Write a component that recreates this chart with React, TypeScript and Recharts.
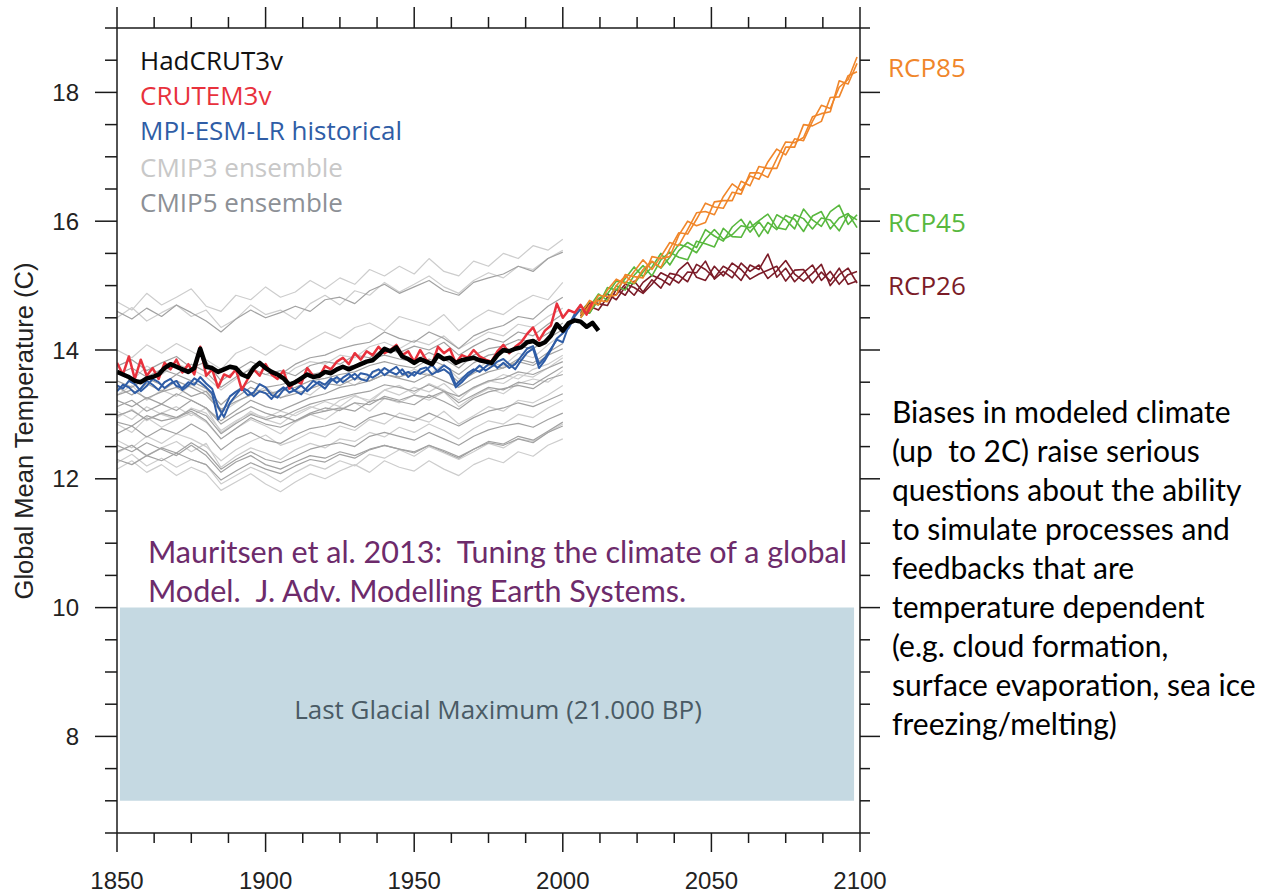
import React from 'react';
import { LineChart, Line, XAxis, YAxis, ReferenceArea } from 'recharts';

// x positions: evenly spaced years
const yearsFrom = (start: number, step: number, count: number) =>
  Array.from({ length: count }, (_, i) => start + i * step);

const OBS_YEARS = yearsFrom(1850, 2, 82); // 1850..2012
const ENS_YEARS = yearsFrom(1850, 5, 31); // 1850..2000
const RCP_YEARS = yearsFrom(2006, 3, 32); // 2006..2099

const X_TICKS = [1850, 1862.5, 1875, 1887.5, 1900, 1912.5, 1925, 1937.5, 1950, 1962.5, 1975, 1987.5, 2000, 2012.5, 2025, 2037.5, 2050, 2062.5, 2075, 2087.5, 2100];
const Y_TICKS = [6.5, 7, 7.5, 8, 8.5, 9, 9.5, 10, 10.5, 11, 11.5, 12, 12.5, 13, 13.5, 14, 14.5, 15, 15.5, 16, 16.5, 17, 17.5, 18, 18.5, 19];

const hadcrut3v = [
  13.66, 13.62, 13.58, 13.52, 13.50, 13.56, 13.58, 13.62, 13.72, 13.78,
  13.74, 13.70, 13.66, 13.72, 14.02, 13.74, 13.72, 13.66, 13.70, 13.74,
  13.72, 13.62, 13.58, 13.72, 13.80, 13.72, 13.66, 13.62, 13.56, 13.46,
  13.50, 13.56, 13.62, 13.58, 13.60, 13.66, 13.64, 13.70, 13.74, 13.70,
  13.74, 13.78, 13.82, 13.84, 13.92, 14.02, 13.98, 14.04, 13.90, 13.86,
  13.80, 13.86, 13.82, 13.78, 13.92, 13.86, 13.88, 13.80, 13.84, 13.86,
  13.88, 13.84, 13.82, 13.80, 13.92, 14.00, 13.98, 14.02, 14.04, 14.12,
  14.14, 14.08, 14.12, 14.22, 14.40, 14.30, 14.42, 14.46, 14.44, 14.36,
  14.42, 14.30,
];

const crutem3v = [
  13.80, 13.62, 13.90, 13.55, 13.85, 13.60, 13.72, 13.55, 13.80, 13.70,
  13.85, 13.65, 13.78, 13.62, 14.05, 13.60, 13.70, 13.42, 13.62, 13.58,
  13.70, 13.38, 13.55, 13.70, 13.60, 13.78, 13.62, 13.55, 13.68, 13.40,
  13.52, 13.48, 13.72, 13.60, 13.58, 13.75, 13.70, 13.82, 13.88, 13.78,
  13.95, 13.85, 13.98, 13.92, 14.05, 13.95, 14.00, 14.08, 13.92, 13.98,
  13.82, 14.00, 13.85, 13.78, 14.05, 13.95, 14.02, 13.80, 13.92, 13.88,
  14.00, 13.90, 13.85, 13.82, 13.98, 14.08, 13.95, 14.05, 14.12, 14.25,
  14.35, 14.15, 14.30, 14.38, 14.72, 14.50, 14.62, 14.58, 14.70, 14.55,
  14.75,
];

const mpiHist1 = [
  13.45, 13.40, 13.52, 13.47, 13.36, 13.44, 13.55, 13.50, 13.41, 13.48,
  13.52, 13.38, 13.45, 13.56, 13.50, 13.42, 13.33, 12.92, 13.08, 13.28,
  13.35, 13.40, 13.30, 13.34, 13.47, 13.42, 13.30, 13.26, 13.38, 13.44,
  13.36, 13.31, 13.42, 13.52, 13.47, 13.40, 13.52, 13.58, 13.50, 13.57,
  13.63, 13.55, 13.52, 13.66, 13.70, 13.61, 13.68, 13.74, 13.62, 13.66,
  13.60, 13.70, 13.73, 13.62, 13.68, 13.76, 13.70, 13.46, 13.55, 13.64,
  13.70, 13.66, 13.74, 13.82, 13.72, 13.80, 13.72, 13.78, 13.90, 14.02,
  14.06, 13.78, 13.88, 14.02, 14.16, 14.12, 14.38, 14.56, 14.70,
];

const mpiHist2 = [
  13.36, 13.46, 13.42, 13.33, 13.40, 13.52, 13.46, 13.38, 13.50, 13.55,
  13.44, 13.41, 13.50, 13.46, 13.58, 13.48, 13.40, 13.12, 12.96, 13.18,
  13.30, 13.42, 13.37, 13.28, 13.36, 13.33, 13.24, 13.35, 13.42, 13.34,
  13.38, 13.45, 13.36, 13.44, 13.51, 13.46, 13.56, 13.49, 13.57, 13.63,
  13.54, 13.64, 13.62, 13.57, 13.63, 13.72, 13.66, 13.62, 13.70, 13.58,
  13.66, 13.63, 13.69, 13.77, 13.66, 13.70, 13.63, 13.42, 13.50, 13.60,
  13.67, 13.76, 13.68, 13.74, 13.82, 13.86, 13.78, 13.70, 13.84, 13.96,
  14.02, 13.72, 13.84, 14.00, 14.18, 14.26, 14.34, 14.52, 14.64,
];

const cmip3 = [
  [14.75, 14.62, 14.88, 14.70, 14.82, 14.95, 14.68, 14.60, 14.85, 14.78, 14.98, 14.82, 14.90, 15.08, 14.95, 15.12, 15.02, 15.25, 15.15, 15.30, 15.18, 15.42, 15.22, 15.15, 15.38, 15.30, 15.50, 15.42, 15.62, 15.55, 15.72],
  [14.50, 14.66, 14.45, 14.58, 14.70, 14.52, 14.62, 14.35, 14.48, 14.70, 14.55, 14.62, 14.48, 14.72, 14.85, 14.70, 14.92, 14.85, 15.05, 14.90, 15.02, 15.15, 14.98, 14.88, 15.08, 15.20, 15.12, 15.30, 15.25, 15.42, 15.55],
  [14.00, 13.88, 14.08, 13.95, 14.10, 13.98, 13.85, 13.70, 13.95, 14.05, 13.92, 14.08, 14.00, 14.15, 14.28, 14.18, 14.35, 14.42, 14.30, 14.52, 14.45, 14.38, 14.55, 14.30, 14.48, 14.62, 14.55, 14.72, 14.85, 14.78, 15.05],
  [13.30, 13.45, 13.22, 13.38, 13.28, 13.46, 13.35, 13.02, 13.18, 13.32, 13.42, 13.25, 13.38, 13.30, 13.48, 13.56, 13.45, 13.62, 13.72, 13.58, 13.70, 13.62, 13.78, 13.55, 13.68, 13.82, 13.75, 13.95, 13.88, 14.08, 14.25],
  [12.95, 13.08, 12.90, 13.02, 13.12, 12.98, 13.10, 12.72, 12.88, 13.05, 12.92, 12.85, 13.02, 13.12, 13.05, 13.22, 13.30, 13.18, 13.38, 13.45, 13.32, 13.48, 13.38, 13.22, 13.42, 13.50, 13.62, 13.55, 13.70, 13.78, 13.92],
  [12.60, 12.48, 12.66, 12.55, 12.70, 12.62, 12.50, 12.28, 12.45, 12.58, 12.68, 12.52, 12.60, 12.72, 12.65, 12.82, 12.75, 12.92, 12.85, 13.02, 12.95, 12.88, 13.05, 12.85, 12.98, 13.12, 13.05, 13.22, 13.18, 13.30, 13.45],
  [12.25, 12.38, 12.20, 12.32, 12.18, 12.30, 12.22, 11.92, 12.05, 12.18, 12.08, 11.95, 12.10, 12.22, 12.15, 12.28, 12.20, 12.38, 12.32, 12.45, 12.35, 12.50, 12.40, 12.30, 12.42, 12.55, 12.48, 12.62, 12.58, 12.72, 12.85],
  [12.85, 12.72, 12.95, 12.80, 12.92, 13.02, 12.88, 12.62, 12.78, 12.92, 12.82, 12.70, 12.88, 13.00, 12.92, 13.08, 13.18, 13.05, 13.25, 13.18, 13.30, 13.22, 13.35, 13.12, 13.28, 13.40, 13.32, 13.48, 13.55, 13.50, 13.68],
  [12.15, 12.28, 12.10, 12.22, 12.05, 12.18, 12.08, 11.82, 11.95, 12.08, 11.92, 11.80, 11.95, 12.08, 12.00, 12.12, 12.22, 12.10, 12.28, 12.18, 12.12, 12.28, 12.15, 12.05, 12.22, 12.32, 12.25, 12.42, 12.35, 12.52, 12.62],
  [13.65, 13.52, 13.75, 13.62, 13.78, 13.70, 13.58, 13.38, 13.55, 13.72, 13.62, 13.55, 13.72, 13.82, 13.78, 13.92, 13.88, 14.05, 14.12, 14.02, 14.15, 14.08, 14.22, 14.02, 14.15, 14.28, 14.22, 14.40, 14.35, 14.52, 14.65],
  [12.40, 12.52, 12.35, 12.48, 12.58, 12.42, 12.55, 12.18, 12.35, 12.48, 12.40, 12.30, 12.45, 12.55, 12.48, 12.62, 12.58, 12.72, 12.65, 12.80, 12.72, 12.85, 12.75, 12.62, 12.78, 12.90, 12.85, 13.00, 12.95, 13.10, 13.22],
  [13.05, 12.92, 13.12, 13.00, 12.92, 13.10, 13.02, 12.75, 12.90, 13.02, 12.95, 13.05, 12.98, 13.10, 13.20, 13.12, 13.28, 13.22, 13.38, 13.30, 13.42, 13.35, 13.48, 13.28, 13.40, 13.52, 13.48, 13.62, 13.58, 13.72, 13.88],
];

const cmip5 = [
  [14.60, 14.48, 14.65, 14.52, 14.70, 14.58, 14.45, 14.28, 14.48, 14.62, 14.50, 14.58, 14.68, 14.60, 14.78, 14.82, 14.72, 14.92, 15.02, 14.88, 14.98, 15.08, 14.92, 14.85, 15.05, 15.12, 15.18, 15.30, 15.22, 15.42, 15.52],
  [13.75, 13.85, 13.68, 13.80, 13.90, 13.72, 13.82, 13.52, 13.68, 13.82, 13.72, 13.62, 13.78, 13.88, 13.92, 14.02, 14.08, 14.12, 14.28, 14.18, 14.12, 14.28, 14.18, 14.02, 14.22, 14.32, 14.38, 14.52, 14.48, 14.68, 14.82],
  [13.42, 13.30, 13.48, 13.36, 13.52, 13.42, 13.30, 13.05, 13.26, 13.42, 13.32, 13.36, 13.42, 13.52, 13.56, 13.62, 13.66, 13.76, 13.82, 13.76, 13.72, 13.86, 13.76, 13.62, 13.80, 13.92, 13.96, 14.06, 14.02, 14.18, 14.32],
  [13.12, 13.22, 13.05, 13.16, 13.06, 13.22, 13.10, 12.85, 13.00, 13.12, 13.02, 12.95, 13.06, 13.16, 13.22, 13.26, 13.32, 13.36, 13.46, 13.42, 13.36, 13.46, 13.36, 13.28, 13.42, 13.52, 13.56, 13.66, 13.62, 13.72, 13.82],
  [12.88, 12.82, 12.98, 12.90, 12.95, 13.05, 12.90, 12.62, 12.78, 12.95, 12.85, 12.80, 12.90, 13.00, 13.05, 13.10, 13.05, 13.20, 13.25, 13.20, 13.15, 13.30, 13.20, 13.08, 13.25, 13.35, 13.40, 13.45, 13.40, 13.55, 13.62],
  [12.70, 12.82, 12.65, 12.78, 12.70, 12.85, 12.72, 12.45, 12.62, 12.72, 12.60, 12.55, 12.68, 12.78, 12.82, 12.88, 12.80, 12.95, 13.02, 12.95, 12.90, 13.02, 12.92, 12.82, 12.95, 13.05, 13.10, 13.18, 13.12, 13.22, 13.32],
  [12.42, 12.52, 12.36, 12.48, 12.40, 12.56, 12.42, 12.15, 12.30, 12.42, 12.30, 12.25, 12.35, 12.46, 12.52, 12.56, 12.50, 12.66, 12.72, 12.66, 12.60, 12.72, 12.62, 12.52, 12.66, 12.76, 12.82, 12.86, 12.80, 12.92, 13.02],
  [13.22, 13.12, 13.26, 13.16, 13.32, 13.22, 13.10, 12.90, 13.06, 13.22, 13.12, 13.06, 13.16, 13.26, 13.32, 13.42, 13.46, 13.52, 13.62, 13.56, 13.50, 13.62, 13.52, 13.42, 13.56, 13.66, 13.72, 13.82, 13.76, 13.92, 14.02],
  [12.52, 12.42, 12.56, 12.46, 12.36, 12.52, 12.36, 12.10, 12.26, 12.36, 12.22, 12.15, 12.26, 12.36, 12.32, 12.42, 12.36, 12.46, 12.52, 12.46, 12.42, 12.52, 12.42, 12.32, 12.46, 12.56, 12.52, 12.62, 12.56, 12.72, 12.82],
  [13.52, 13.42, 13.56, 13.46, 13.62, 13.52, 13.40, 13.15, 13.36, 13.52, 13.42, 13.46, 13.52, 13.62, 13.66, 13.72, 13.76, 13.86, 13.92, 13.86, 13.82, 13.96, 13.86, 13.72, 13.92, 14.02, 14.06, 14.16, 14.12, 14.26, 14.42],
  [13.30, 13.38, 13.25, 13.35, 13.42, 13.28, 13.36, 13.08, 13.20, 13.30, 13.38, 13.26, 13.32, 13.40, 13.48, 13.45, 13.56, 13.52, 13.62, 13.58, 13.66, 13.60, 13.70, 13.50, 13.64, 13.76, 13.72, 13.86, 13.80, 13.96, 14.10],
  [12.98, 13.06, 12.92, 13.02, 12.95, 13.08, 12.98, 12.70, 12.86, 13.00, 12.92, 12.98, 12.90, 13.02, 13.10, 13.06, 13.18, 13.15, 13.28, 13.22, 13.30, 13.26, 13.36, 13.18, 13.30, 13.42, 13.38, 13.50, 13.46, 13.60, 13.74],
  [13.62, 13.72, 13.58, 13.70, 13.62, 13.78, 13.66, 13.42, 13.58, 13.70, 13.62, 13.68, 13.60, 13.76, 13.82, 13.78, 13.92, 13.88, 14.02, 13.96, 14.06, 14.00, 14.12, 13.92, 14.06, 14.18, 14.12, 14.28, 14.22, 14.40, 14.56],
  [12.30, 12.22, 12.36, 12.28, 12.40, 12.30, 12.22, 11.98, 12.12, 12.25, 12.15, 12.08, 12.20, 12.30, 12.26, 12.38, 12.32, 12.45, 12.52, 12.46, 12.40, 12.52, 12.44, 12.34, 12.46, 12.58, 12.54, 12.66, 12.60, 12.74, 12.88],
];

const rcp85 = [
  [14.55, 14.77, 14.70, 14.93, 15.10, 15.03, 15.22, 15.40, 15.25, 15.45, 15.67, 15.62, 15.87, 16.13, 16.15, 16.10, 16.38, 16.58, 16.48, 16.70, 16.65, 16.92, 17.12, 17.03, 17.28, 17.25, 17.55, 17.80, 17.75, 18.08, 18.20, 18.55],
  [14.63, 14.60, 14.85, 14.83, 14.85, 15.17, 15.14, 15.12, 15.45, 15.42, 15.45, 15.78, 16.00, 15.93, 15.98, 16.30, 16.32, 16.32, 16.62, 16.55, 16.85, 16.82, 16.82, 17.15, 17.15, 17.50, 17.48, 17.55, 17.92, 17.93, 18.26, 18.32],
  [14.50, 14.70, 14.77, 14.75, 15.00, 15.15, 15.04, 15.25, 15.38, 15.28, 15.57, 15.82, 15.80, 16.03, 16.28, 16.22, 16.20, 16.45, 16.42, 16.75, 16.75, 16.68, 16.97, 17.23, 17.22, 17.30, 17.62, 17.67, 17.70, 18.18, 18.13, 18.45],
];

const rcp45 = [
  [14.60, 14.75, 14.70, 14.97, 14.93, 15.11, 15.29, 15.14, 15.29, 15.50, 15.32, 15.54, 15.67, 15.59, 15.87, 15.77, 15.69, 15.91, 16.03, 15.83, 15.99, 15.81, 16.10, 16.02, 15.88, 16.19, 16.02, 15.92, 16.15, 16.25, 15.95, 16.10],
  [14.50, 14.67, 14.87, 14.77, 15.00, 14.93, 15.16, 15.31, 15.15, 15.40, 15.52, 15.44, 15.40, 15.69, 15.65, 15.60, 15.89, 15.76, 15.75, 16.00, 15.76, 15.98, 15.87, 16.09, 16.03, 15.84, 16.08, 16.15, 15.88, 16.05, 16.12, 15.90],
  [14.57, 14.57, 14.80, 14.87, 15.07, 15.05, 15.03, 15.21, 15.37, 15.27, 15.44, 15.64, 15.60, 15.51, 15.72, 15.87, 15.72, 15.79, 15.93, 15.90, 16.01, 16.11, 15.90, 15.87, 16.10, 16.04, 15.88, 16.05, 16.02, 15.85, 16.10, 16.02],
];

const rcp26 = [
  [14.53, 14.73, 14.72, 14.69, 14.94, 14.85, 15.07, 14.90, 15.09, 14.96, 15.19, 15.16, 15.06, 15.33, 15.25, 15.12, 15.30, 15.22, 15.08, 15.32, 15.25, 15.49, 15.13, 15.27, 15.06, 15.20, 15.32, 15.08, 15.22, 15.02, 15.17, 15.22],
  [14.60, 14.58, 14.78, 14.87, 14.78, 14.98, 14.85, 15.05, 15.16, 15.10, 15.01, 15.24, 15.36, 15.13, 15.08, 15.30, 15.15, 15.35, 15.25, 15.10, 15.18, 15.24, 15.30, 15.07, 15.24, 15.25, 15.04, 15.21, 15.07, 15.27, 15.02, 15.07],
  [14.57, 14.68, 14.62, 14.82, 14.86, 15.02, 14.97, 14.88, 15.02, 15.20, 15.13, 15.04, 15.21, 15.20, 15.38, 15.10, 15.22, 15.12, 15.35, 15.22, 15.32, 15.11, 15.23, 15.39, 15.18, 15.07, 15.19, 15.33, 15.00, 15.17, 15.27, 15.04],
];

const legendItems = [
  { label: 'HadCRUT3v', color: '#111111' },
  { label: 'CRUTEM3v', color: '#e8313c' },
  { label: 'MPI-ESM-LR historical', color: '#2f5da6' },
  { label: 'CMIP3 ensemble', color: '#c8c8c8' },
  { label: 'CMIP5 ensemble', color: '#8c9096' },
];
const legendY = [60, 95, 130, 167, 202];

const rcpLabels = [
  { label: 'RCP85', color: '#f0862a', y: 67 },
  { label: 'RCP45', color: '#58b83e', y: 222 },
  { label: 'RCP26', color: '#7b1c28', y: 285 },
];

const noteLines = [
  'Biases in modeled climate',
  '(up  to 2C) raise serious',
  'questions about the ability',
  'to simulate processes and',
  'feedbacks that are',
  'temperature dependent',
  '(e.g. cloud formation,',
  'surface evaporation, sea ice',
  'freezing/melting)',
];

const refLines = [
  'Mauritsen et al. 2013:  Tuning the climate of a global',
  'Model.  J. Adv. Modelling Earth Systems.',
];

const pts = (years: number[], vals: number[]) => years.map((year, i) => ({ year, v: vals[i] }));

const AX = '#1a1a1a';
const tickFont = '"Liberation Sans", Arial, sans-serif';

const LeftTick = ({ x, y, payload }: any) => {
  const v = payload.value;
  const major = v % 2 === 0;
  return (
    <g>
      <line x1={x} x2={x - (major ? 22 : 12)} y1={y} y2={y} stroke={AX} strokeWidth={1.5} />
      {major && (
        <text x={79} y={y} textAnchor="end" dominantBaseline="central" fontSize={24} fontFamily={tickFont} fill="#222">
          {v}
        </text>
      )}
    </g>
  );
};

const RightTick = ({ x, y, payload }: any) => {
  const major = payload.value % 2 === 0;
  return <line x1={x} x2={x + (major ? 20 : 10)} y1={y} y2={y} stroke={AX} strokeWidth={1.5} />;
};

const BottomTick = ({ x, y, payload }: any) => {
  const v = payload.value;
  const major = v % 50 === 0;
  return (
    <g>
      <line x1={x} x2={x} y1={y} y2={y + (major ? 19 : 10)} stroke={AX} strokeWidth={1.5} />
      {major && (
        <text x={x} y={880} textAnchor="middle" dominantBaseline="central" fontSize={24} fontFamily={tickFont} fill="#222">
          {v}
        </text>
      )}
    </g>
  );
};

const TopTick = ({ x, y, payload }: any) => {
  const major = payload.value % 50 === 0;
  return <line x1={x} x2={x} y1={y} y2={y - (major ? 21 : 11)} stroke={AX} strokeWidth={1.5} />;
};

const abs = (left: number, top: number, extra: React.CSSProperties = {}): React.CSSProperties => ({
  position: 'absolute',
  left,
  top,
  lineHeight: 1,
  whiteSpace: 'pre',
  transform: 'translateY(-50%)',
  ...extra,
});

const series = (key: string, data: any[], stroke: string, width: number) => (
  <Line key={key} xAxisId="b" yAxisId="l" data={data} dataKey="v" type="linear"
    stroke={stroke} strokeWidth={width} strokeLinejoin="round" dot={false} activeDot={false} isAnimationActive={false} />
);

export default function App() {
  return (
    <div style={{ position: 'absolute', left: 0, top: 0, width: 1274, height: 893, background: '#fff', overflow: 'hidden' }}>
      <LineChart width={1274} height={893} margin={{ top: 0, right: 0, bottom: 0, left: 0 }}>
        <XAxis xAxisId="b" type="number" dataKey="year" domain={[1850, 2100]} ticks={X_TICKS} interval={0}
          height={60} tickSize={0} tickMargin={0} tick={<BottomTick />} axisLine={{ stroke: AX, strokeWidth: 1.5 }} allowDataOverflow />
        <XAxis xAxisId="t" orientation="top" type="number" dataKey="year" domain={[1850, 2100]} ticks={X_TICKS} interval={0}
          height={28} tickSize={0} tickMargin={0} tick={<TopTick />} axisLine={{ stroke: AX, strokeWidth: 1.5 }} allowDataOverflow />
        <YAxis yAxisId="l" type="number" domain={[6.5, 19]} ticks={Y_TICKS} interval={0} width={117}
          tickSize={0} tickMargin={0} tick={<LeftTick />} axisLine={{ stroke: AX, strokeWidth: 1.5 }} allowDataOverflow />
        <YAxis yAxisId="r" orientation="right" type="number" domain={[6.5, 19]} ticks={Y_TICKS} interval={0} width={414}
          tickSize={0} tickMargin={0} tick={<RightTick />} axisLine={{ stroke: AX, strokeWidth: 1.5 }} allowDataOverflow />

        <ReferenceArea xAxisId="b" yAxisId="l" x1={1851} x2={2098} y1={7} y2={10} fill="#c5d9e2" fillOpacity={1} stroke="none" />

        {cmip3.map((vals, i) => series(`c3-${i}`, pts(ENS_YEARS, vals), '#cdcdcd', 1.2))}
        {cmip5.map((vals, i) => series(`c5-${i}`, pts(ENS_YEARS, vals), '#a2a2a2', 1.2))}

        {rcp26.map((vals, i) => series(`r26-${i}`, pts(RCP_YEARS, vals), '#7b1c28', 1.6))}
        {rcp45.map((vals, i) => series(`r45-${i}`, pts(RCP_YEARS, vals), '#58b83e', 1.6))}
        {rcp85.map((vals, i) => series(`r85-${i}`, pts(RCP_YEARS, vals), '#f0862a', 1.6))}

        {series('mpi2', pts(OBS_YEARS, mpiHist2), '#2f5da6', 2)}
        {series('mpi1', pts(OBS_YEARS, mpiHist1), '#2f5da6', 2)}
        {series('crutem', pts(OBS_YEARS, crutem3v), '#e8313c', 2.5)}
        {series('hadcrut', pts(OBS_YEARS, hadcrut3v), '#000000', 4.5)}
      </LineChart>

      <div style={abs(25, 431, { transform: 'translate(-50%, -50%) rotate(-90deg)', fontFamily: tickFont, fontSize: 25.5, color: '#222' })}>
        Global Mean Temperature (C)
      </div>

      {legendItems.map((it, i) => (
        <div key={it.label} style={abs(140, legendY[i], { fontFamily: '"Open Sans", sans-serif', fontSize: 26, color: it.color })}>
          {it.label}
        </div>
      ))}

      {rcpLabels.map((it) => (
        <div key={it.label} style={abs(888, it.y, { fontFamily: '"Open Sans", sans-serif', fontSize: 26, color: it.color })}>
          {it.label}
        </div>
      ))}

      {refLines.map((t, i) => (
        <div key={t} style={abs(148, 551 + i * 39, { fontFamily: 'Lato, sans-serif', fontSize: 30.5, color: '#6d2b6b' })}>
          {t}
        </div>
      ))}

      <div style={abs(498, 709, { transform: 'translate(-50%, -50%)', fontFamily: '"Open Sans", sans-serif', fontSize: 26, color: '#4a5b65' })}>
        Last Glacial Maximum (21.000 BP)
      </div>

      {noteLines.map((t, i) => (
        <div key={t} style={abs(892, 411 + i * 39, { fontFamily: 'Lato, sans-serif', fontSize: 30, color: '#000' })}>
          {t}
        </div>
      ))}
    </div>
  );
}
